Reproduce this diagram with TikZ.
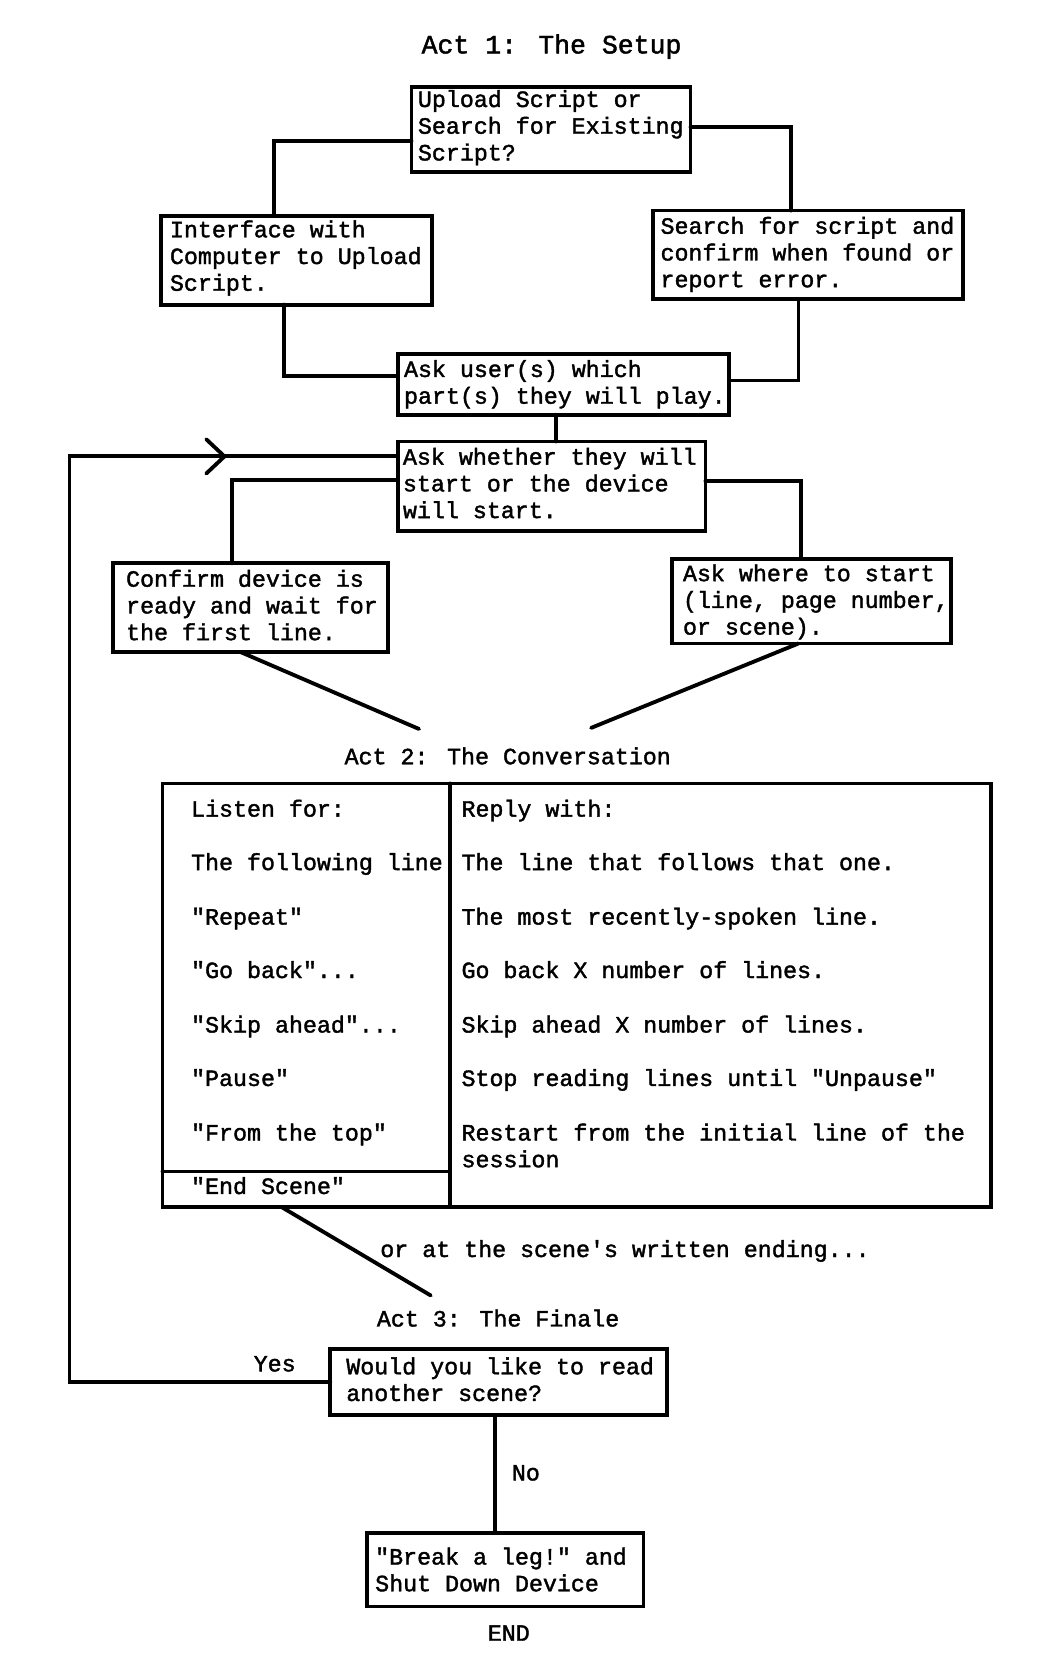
\documentclass[tikz,border=0pt]{standalone}
\usepackage{fontspec}
\setmainfont{Liberation Mono}[FakeBold=1.7,Ligatures=TeXOff]
\newcommand\fixsp{\spaceskip=0pt\xspaceskip=0pt\relax}
\newcommand\hstrut{\rule{0pt}{9.5pt}}
\newcommand\dstrut[1]{\rule[-#1pt]{0pt}{#1pt}}
\begin{document}
\begin{tikzpicture}[x=0.5pt,y=-0.5pt,line width=1.8pt,
  font=\fontsize{10.9}{12.5}\selectfont,
  fbox/.style={draw,line width=1.8pt,anchor=north west,align=left,inner ysep=0pt,outer sep=0pt},
  lbl/.style={inner sep=0pt,anchor=base west},
  clbl/.style={inner sep=0pt,anchor=base},
  conn/.style={draw,line width=1.8pt,line cap=round,line join=miter}]
\useasboundingbox (0,0) rectangle (973,1568);

% titles
\node[clbl,font=\fontsize{12.4}{14}\selectfont] (t1) at (516,50) {Act 1: The Setup};
\node[clbl] (t2) at (475,715) {Act 2: The Conversation};
\node[clbl] (t3) at (466,1241) {Act 3: The Finale};

% boxes
\node[fbox,inner xsep=3pt,text width=124.5pt,minimum width=130.5pt,minimum height=40pt] (b1) at (385,81)
  {\fixsp\hstrut\mbox{Upload Script or}\\\mbox{Search for Existing}\\\mbox{Script?}\dstrut{5.4}};
\node[fbox,inner xsep=4pt,text width=118.5pt,minimum width=126.5pt,minimum height=41.5pt] (b2) at (151,202)
  {\fixsp\hstrut\mbox{Interface with}\\\mbox{Computer to Upload}\\\mbox{Script.}\dstrut{6.0}};
\node[fbox,inner xsep=3.5pt,text width=138pt,minimum width=145pt,minimum height=41.5pt] (b3) at (611,197)
  {\fixsp\hstrut\mbox{Search for script and}\\\mbox{confirm when found or}\\\mbox{report error.}\dstrut{4.3}};
\node[fbox,inner xsep=3pt,text width=149pt,minimum width=155pt,minimum height=28.5pt] (b4) at (372,331)
  {\fixsp\hstrut\mbox{Ask user(s) which}\\\mbox{part(s) they will play.}\dstrut{3.8}};
\node[fbox,inner xsep=2.5pt,text width=139pt,minimum width=144pt,minimum height=42pt] (b5) at (372,413)
  {\fixsp\hstrut\mbox{Ask whether they will}\\\mbox{start or the device}\\\mbox{will start.}\dstrut{4.8}};
\node[fbox,inner xsep=6pt,text width=116.5pt,minimum width=128.5pt,minimum height=41.5pt] (b6) at (106,527)
  {\fixsp\hstrut\mbox{Confirm device is}\\\mbox{ready and wait for}\\\mbox{the first line.}\dstrut{4.1}};
\node[fbox,inner xsep=5pt,text width=120.5pt,minimum width=130.5pt,minimum height=39.5pt] (b7) at (629,523)
  {\fixsp\hstrut\mbox{Ask where to start}\\\mbox{(line, page number,}\\\mbox{or scene).}\dstrut{3.3}};
\node[fbox,inner xsep=7.5pt,text width=142.5pt,minimum width=157.5pt,minimum height=31pt] (b8) at (309,1262)
  {\fixsp\hstrut\mbox{Would you like to read}\\\mbox{another scene?}\dstrut{4.3}};
\node[fbox,inner xsep=4pt,text width=121.5pt,minimum width=129.5pt,minimum height=34.5pt] (b9) at (343,1434)
  {\fixsp\hstrut\mbox{"Break a leg!" and}\\\mbox{Shut Down Device}\dstrut{1.8}};

% table
\node[draw,line width=1.8pt,anchor=north west,inner sep=0pt,outer sep=0pt,minimum width=387.5pt,minimum height=198pt] (tbl) at (152,733) {};
\coordinate (dv) at (421,900);
\coordinate (hl) at (421,1096);
\draw[conn] (tbl.north -| dv) -- (tbl.south -| dv);
\draw[conn] (tbl.west |- hl) -- (hl);

\node[lbl] (l0) at (177,764) {Listen for:};
\node[lbl] (l1) at (177,814) {The following line};
\node[lbl] (l2) at (177,865) {"Repeat"};
\node[lbl] (l3) at (177,915) {"Go back"...};
\node[lbl] (l4) at (177,966) {"Skip ahead"...};
\node[lbl] (l5) at (177,1016) {"Pause"};
\node[lbl] (l6) at (177,1067) {"From the top"};
\node[lbl] (l7) at (177,1117) {"End Scene"};

\node[lbl] (r0) at (430,764) {Reply with:};
\node[lbl] (r1) at (430,814) {The line that follows that one.};
\node[lbl] (r2) at (430,865) {The most recently-spoken line.};
\node[lbl] (r3) at (430,915) {Go back X number of lines.};
\node[lbl] (r4) at (430,966) {Skip ahead X number of lines.};
\node[lbl] (r5) at (430,1016) {Stop reading lines until "Unpause"};
\node[lbl] (r6) at (430,1067) {Restart from the initial line of the};
\node[lbl] (r7) at (430,1092) {session};

% other labels
\node[lbl] (orat) at (354,1176) {or at the scene's written ending...};
\node[clbl] (yes) at (257,1283) {Yes};
\node[clbl] (no) at (492,1385) {No};
\node[clbl] (endl) at (476,1535) {END};

% junction coordinates
\coordinate (j1) at (256,132);
\coordinate (j2) at (740,119);
\coordinate (j3) at (266,352);
\coordinate (j4) at (747,356);
\coordinate (j5) at (520,400);
\coordinate (j6) at (217,449);
\coordinate (j7) at (749,450);
\coordinate (j8) at (463,1380);
\coordinate (lp) at (65,427);
\coordinate (chev) at (210,427);
\coordinate (k6) at (225,0);
\coordinate (k7) at (747,0);
\coordinate (kt) at (263,0);
\coordinate (d6) at (392,682);
\coordinate (d7) at (553,681);
\coordinate (dt) at (403,1212);

% connectors
\draw[conn] (b1.west |- j1) -| (b2.north -| j1);
\draw[conn] (b1.east |- j2) -| (b3.north -| j2);
\draw[conn] (b2.south -| j3) |- (b4.west |- j3);
\draw[conn] (b3.south -| j4) |- (b4.east |- j4);
\draw[conn] (b4.south -| j5) -- (b5.north -| j5);
\draw[conn] (b5.west |- j6) -| (b6.north -| j6);
\draw[conn] (b5.east |- j7) -| (b7.north -| j7);
\draw[conn] (b6.south -| k6) -- (d6);
\draw[conn] (b7.south -| k7) -- (d7);
\draw[conn] (tbl.south -| kt) -- (dt);
\draw[conn] (b8.west) -| (lp) -- (b5.west |- lp);
\draw[conn] ([shift={(-17,-16)}]chev) -- (chev) -- ([shift={(-17,16)}]chev);
\draw[conn] (b8.south -| j8) -- (b9.north -| j8);
\end{tikzpicture}
\end{document}
